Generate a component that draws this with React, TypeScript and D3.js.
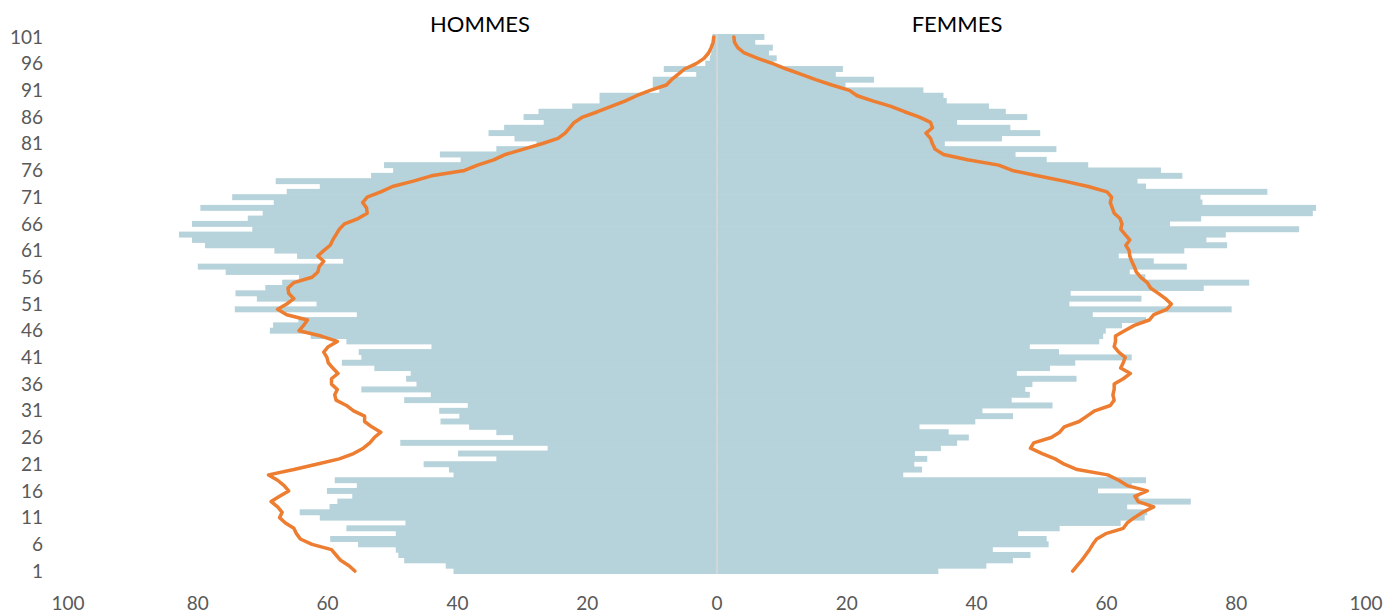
import React from 'react';
import * as d3 from 'd3';

// ages 1..101, bottom to top
const ages: number[] = d3.range(1, 102);
const ageTicks: number[] = [1, 6, 11, 16, 21, 26, 31, 36, 41, 46, 51, 56, 61, 66, 71, 76, 81, 86, 91, 96, 101];
const xTicks: number[] = [-100, -80, -60, -40, -20, 0, 20, 40, 60, 80, 100];

// HOMMES bars (age 1 -> 101)
const hommes: number[] = [
  40.6, 41.8, 48.2, 49.1, 49.5, 55.3, 59.6, 49.5, 57.1, 48.0,
  61.2, 64.3, 59.7, 58.5, 56.2, 60.1, 55.5, 58.9, 40.6, 41.3,
  45.2, 34.0, 39.9, 26.1, 48.8, 31.4, 34.0, 38.2, 42.6, 39.7,
  42.8, 38.4, 48.2, 44.1, 54.8, 46.3, 47.9, 47.2, 52.8, 57.8,
  54.8, 55.2, 44.0, 57.1, 62.6, 68.9, 68.4, 64.5, 55.5, 74.3,
  61.7, 70.9, 74.2, 69.6, 67.0, 64.4, 75.7, 80.0, 57.6, 64.7,
  68.2, 78.9, 80.9, 82.9, 71.6, 80.9, 72.3, 70.0, 79.6, 68.3,
  74.7, 66.3, 61.2, 68.0, 53.3, 49.9, 51.3, 39.5, 42.7, 34.0,
  27.8, 31.2, 35.2, 32.8, 26.7, 29.8, 27.5, 22.3, 18.1, 18.1,
  8.9, 9.9, 9.9, 3.2, 8.2, 1.8, 1.1, 0.9, 0.7, 0.6,
  0.7,
];

// FEMMES bars (age 1 -> 101)
const femmes: number[] = [
  34.1, 41.5, 45.6, 48.3, 42.5, 51.1, 50.8, 46.4, 52.8, 62.2,
  65.9, 66.3, 63.2, 73.0, 65.1, 58.7, 63.9, 66.1, 28.7, 31.6,
  30.4, 32.4, 30.5, 34.5, 37.0, 38.8, 35.7, 31.2, 39.8, 45.6,
  40.9, 51.7, 45.4, 48.2, 47.5, 48.6, 55.4, 46.2, 51.3, 55.2,
  63.9, 52.7, 48.2, 58.9, 59.5, 59.9, 62.4, 66.1, 57.9, 79.3,
  54.3, 65.4, 54.5, 75.0, 82.0, 66.0, 63.6, 72.4, 67.3, 61.9,
  72.0, 78.6, 75.4, 78.4, 89.7, 69.8, 74.6, 91.8, 92.3, 74.8,
  74.5, 84.8, 66.1, 64.8, 71.7, 68.4, 57.2, 50.8, 46.0, 52.3,
  35.1, 43.9, 49.8, 45.2, 37.0, 47.8, 44.5, 41.9, 35.4, 34.9,
  31.8, 19.8, 24.2, 18.3, 19.4, 8.7, 9.2, 8.0, 8.6, 5.9,
  7.3,
];

// reference curve, hommes (age 1 -> 101)
const hommesRef: number[] = [
  55.8, 56.7, 58.0, 58.7, 59.4, 62.4, 64.2, 64.8, 65.2, 66.5,
  67.4, 67.0, 67.7, 68.7, 67.4, 66.0, 66.7, 67.7, 69.1, 65.2,
  61.7, 58.2, 56.0, 54.5, 53.5, 52.8, 51.8, 53.2, 54.3, 54.3,
  56.0, 57.1, 58.7, 58.9, 58.5, 59.4, 59.4, 58.4, 59.2, 59.9,
  60.1, 60.6, 59.9, 58.5, 61.0, 64.4, 63.7, 63.1, 66.3, 67.7,
  66.3, 65.2, 66.0, 66.1, 65.2, 62.4, 61.5, 61.3, 60.6, 61.5,
  60.6, 59.6, 59.2, 58.7, 58.2, 57.4, 55.3, 53.9, 54.0, 54.6,
  53.9, 51.8, 50.0, 46.8, 44.0, 38.9, 36.9, 34.4, 32.6, 29.8,
  27.0, 24.5, 23.4, 22.7, 22.0, 20.7, 18.4, 16.3, 14.2, 12.4,
  10.3, 7.8, 7.0, 6.0, 5.0, 3.2, 2.0, 1.3, 0.9, 0.6,
  0.5,
];

// reference curve, femmes (age 1 -> 101)
const femmesRef: number[] = [
  54.8, 55.5, 56.2, 56.8, 57.4, 57.9, 58.5, 59.9, 62.6, 63.2,
  64.3, 65.6, 67.3, 64.9, 64.4, 66.3, 63.2, 61.9, 60.2, 55.5,
  53.5, 52.1, 50.1, 48.3, 48.8, 51.5, 52.8, 53.5, 55.8, 57.0,
  58.2, 60.6, 61.2, 61.0, 61.2, 61.2, 62.6, 63.7, 62.2, 62.6,
  62.9, 61.9, 61.2, 61.4, 61.4, 62.8, 64.3, 66.6, 67.3, 69.3,
  70.0, 69.1, 68.0, 66.8, 66.3, 65.3, 64.6, 64.3, 63.9, 63.6,
  63.5, 63.0, 63.6, 62.9, 62.2, 62.4, 62.1, 61.2, 60.9, 60.6,
  60.8, 60.1, 57.2, 53.5, 49.4, 45.5, 43.4, 38.6, 34.9, 33.6,
  33.2, 32.9, 32.2, 33.2, 32.9, 31.2, 28.9, 26.8, 24.1, 21.6,
  20.4, 17.7, 15.2, 13.0, 10.7, 8.6, 6.3, 4.2, 3.2, 2.7,
  2.6,
];

const W = 1386;
const H = 615;
const FONT = 'Lato, "Open Sans", sans-serif';

export default function App() {
  const x = d3.scaleLinear().domain([-100, 100]).range([68, 1366]);
  const y = d3.scaleBand<number>().domain(ages.slice().reverse()).range([34.3, 573.7]).padding(0);
  const bw = y.bandwidth();
  const cy = (a: number) => (y(a) as number) + bw / 2;

  const lineL = d3.line<number>().x((v) => x(-v)).y((_, i) => cy(ages[i]));
  const lineR = d3.line<number>().x((v) => x(v)).y((_, i) => cy(ages[i]));

  // bars overlap a hair so no seams show between rows
  const barH = bw + 0.6;

  return (
    <svg width={W} height={H} style={{ position: 'absolute', left: 0, top: 0, background: '#fff' }}>
      <g fill="#b6d2da">
        {ages.map((a, i) => (
          <rect key={'h' + a} x={x(-hommes[i])} y={(y(a) as number) - 0.3} width={x(0) - x(-hommes[i])} height={barH} />
        ))}
        {ages.map((a, i) => (
          <rect key={'f' + a} x={x(0)} y={(y(a) as number) - 0.3} width={x(femmes[i]) - x(0)} height={barH} />
        ))}
      </g>
      <line x1={x(0)} x2={x(0)} y1={34} y2={574} stroke="#d9d9d9" strokeWidth={1.5} />
      <path d={lineL(hommesRef) || ''} fill="none" stroke="#ed7d31" strokeWidth={3.5} strokeLinejoin="round" strokeLinecap="round" />
      <path d={lineR(femmesRef) || ''} fill="none" stroke="#ed7d31" strokeWidth={3.5} strokeLinejoin="round" strokeLinecap="round" />
      <g fontFamily={FONT} fontSize={19} fill="#595959">
        {ageTicks.map((a) => (
          <text key={a} x={43} y={cy(a)} dy="0.35em" textAnchor="end">{a}</text>
        ))}
        {xTicks.map((t) => (
          <text key={t} x={x(t)} y={610} textAnchor="middle">{Math.abs(t)}</text>
        ))}
      </g>
      <g fontFamily={FONT} fontSize={22} fill="#000">
        <text x={480} y={32} textAnchor="middle">HOMMES</text>
        <text x={957} y={32} textAnchor="middle">FEMMES</text>
      </g>
    </svg>
  );
}
